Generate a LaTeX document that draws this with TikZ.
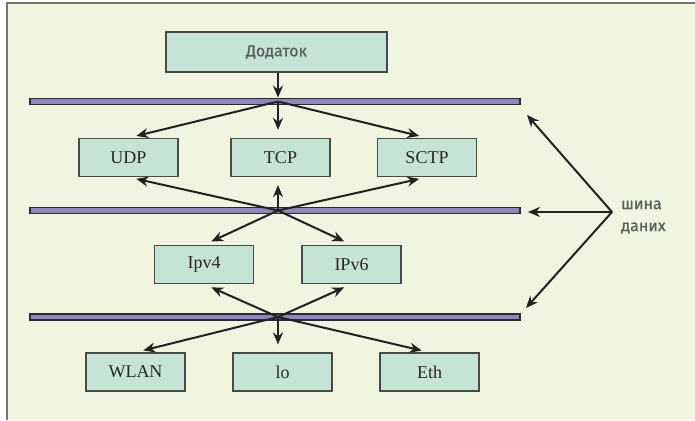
\documentclass[tikz,border=0pt]{standalone}
\usepackage{fontspec}
\setmainfont{Liberation Serif}
\newfontfamily\labelsans[FakeBold=0.8]{Fira Sans}
\usetikzlibrary{arrows.meta}
\definecolor{bgc}{HTML}{EFF5DF}
\definecolor{framec}{HTML}{707870}
\definecolor{boxfill}{HTML}{C6E4D6}
\definecolor{boxline}{HTML}{4A4A4A}
\definecolor{busfill}{HTML}{8E88BA}
\definecolor{busline}{HTML}{2A2A38}
\definecolor{arrc}{HTML}{222222}
\definecolor{graytext}{HTML}{56605F}
\tikzset{
  layerbox/.style={draw=boxline, fill=boxfill, line width=1.3pt, minimum width=99pt, minimum height=38pt, inner sep=0pt, font=\fontsize{18}{18}\selectfont, text=black!85},
  appbox/.style={draw=boxline, fill=boxfill, line width=1.3pt, minimum width=221pt, minimum height=40pt, inner sep=0pt, font=\labelsans\fontsize{16}{16}\selectfont, text=graytext},
  busbar/.style={draw=busline, fill=busfill, line width=1.8pt, minimum width=490pt, minimum height=6pt, inner sep=0pt},
  arr/.style={draw=arrc, line width=2pt, -{Stealth[length=12pt,width=10pt]}, shorten >=8pt},
  arrz/.style={draw=arrc, line width=2pt, -{Stealth[length=12pt,width=10pt]}},
  sidetext/.style={font=\labelsans\fontsize{16}{22}\selectfont, text=graytext, align=left, inner sep=0pt}
}
\begin{document}
\begin{tikzpicture}[x=1pt,y=-1pt]
\useasboundingbox (0,0) rectangle (695,420);
\fill[white] (0,0) rectangle (695,420);
\fill[bgc] (7,3) rectangle (695,420);
\draw[framec, line width=2pt] (7,420) -- (7,3) -- (695,3);

\node[appbox] (app) at (276.5,52) {Додаток};

\node[busbar] (b1) at (275,101.5) {};
\node[busbar] (b2) at (275,210.5) {};
\node[busbar] (b3) at (275,317) {};
\coordinate (c1) at (278,101.5);
\coordinate (c2) at (278,210.5);
\coordinate (c3) at (278,317);

\node[layerbox] (udp) at (128.5,157.5) {UDP};
\node[layerbox] (tcp) at (280.5,157.5) {TCP};
\node[layerbox] (sctp) at (427,157.5) {SCTP};

\node[layerbox] (ipv4) at (204,264.5) {Ipv4};
\node[layerbox] (ipv6) at (351.5,264.5) {IPv6};

\node[layerbox] (wlan) at (135.5,372) {WLAN};
\node[layerbox] (lo) at (282.5,372) {lo};
\node[layerbox] (eth) at (429.5,372) {Eth};

% app to bus 1
\draw[arrz] (app.south -| c1) -- (c1 |- b1.north);
% bus 1 to transport
\draw[arr] (c1) -- (udp.north);
\draw[arr] (c1) -- (c1 |- tcp.north);
\draw[arr] (c1) -- (sctp.north);
% bus 2 up
\draw[arr] (c2) -- (udp.south);
\draw[arr] (c2) -- (c2 |- tcp.south);
\draw[arr] (c2) -- (sctp.south);
% bus 2 down
\draw[arr] (c2) -- (ipv4.north);
\draw[arr] (c2) -- (ipv6.north);
% bus 3 up
\draw[arr] (c3) -- (ipv4.south);
\draw[arr] (c3) -- (ipv6.south);
% bus 3 down
\draw[arr] (c3) -- (wlan.north);
\draw[arr] (c3) -- (c3 |- lo.north);
\draw[arr] (c3) -- (eth.north);

% side label
\coordinate (hub) at (612,212);
\node[sidetext, anchor=west] (lbl) at (621,217) {шина\\даних};
\coordinate (t1) at (527,115);
\coordinate (t2) at (528,212);
\coordinate (t3) at (526,308);
\draw[arrz] (hub) -- (t1);
\draw[arrz] (hub) -- (t2);
\draw[arrz] (hub) -- (t3);
\end{tikzpicture}
\end{document}
